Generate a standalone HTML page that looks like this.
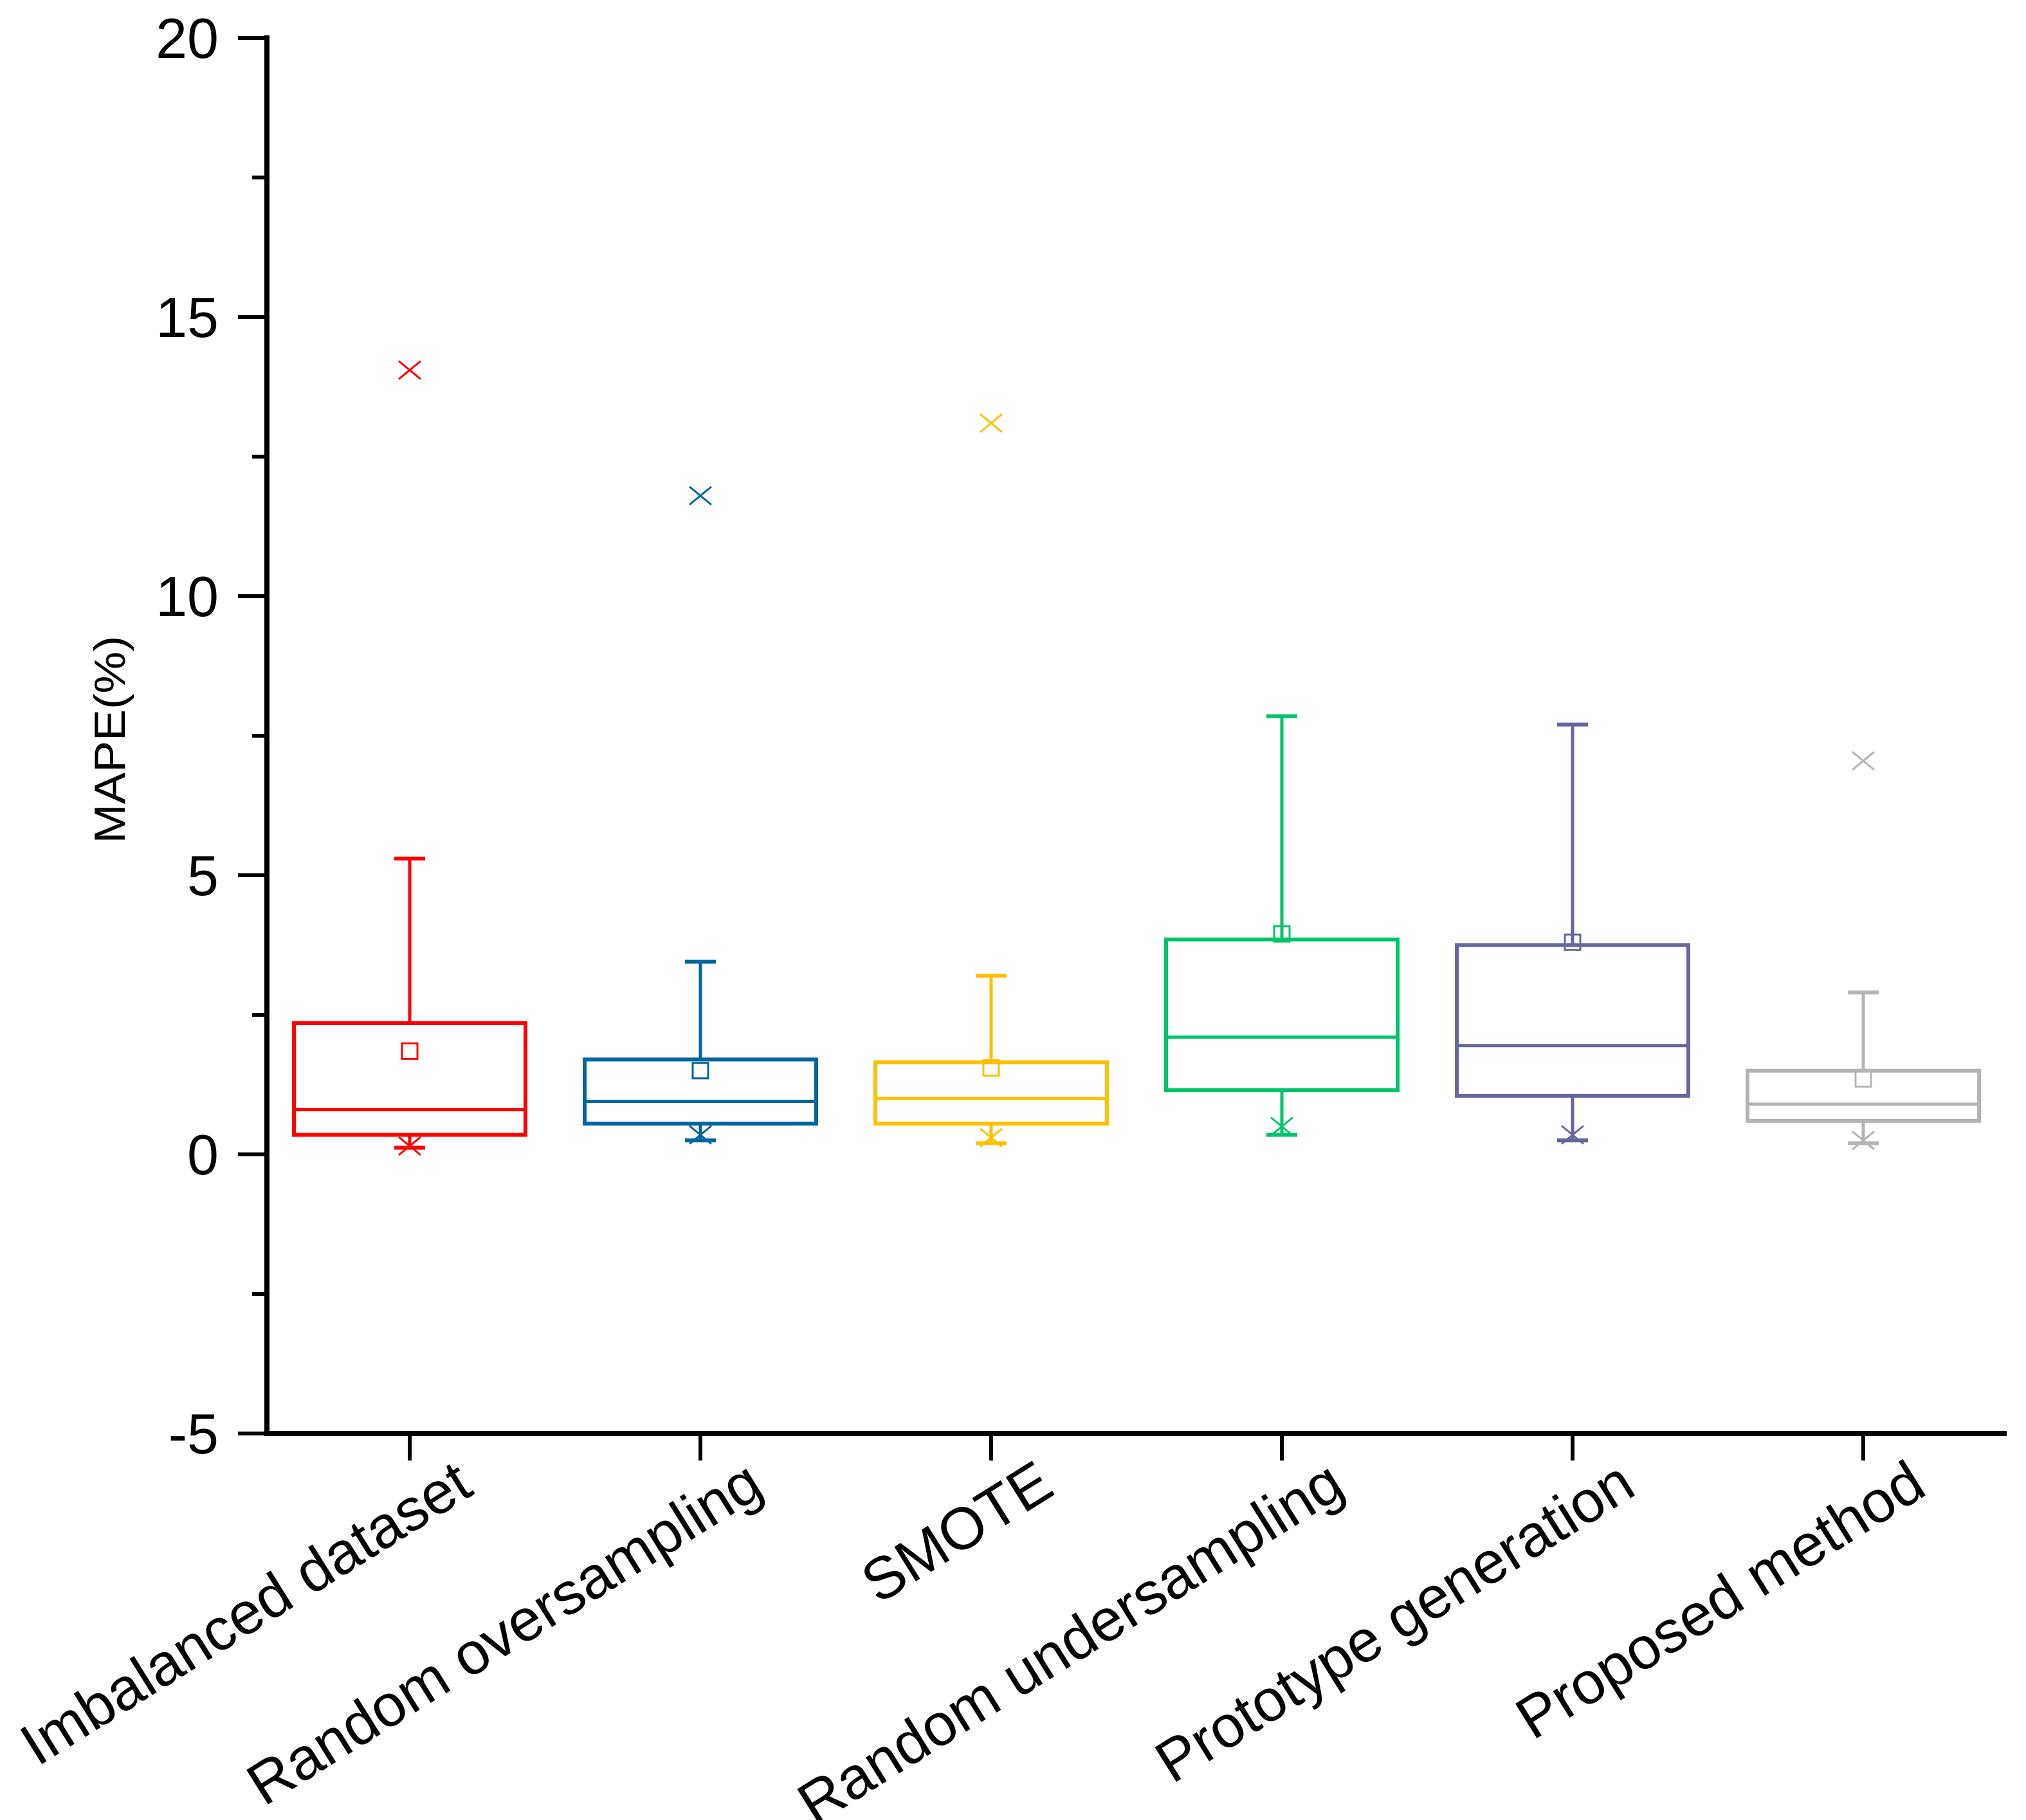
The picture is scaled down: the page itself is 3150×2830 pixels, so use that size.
<!DOCTYPE html>
<html><head><meta charset="utf-8"><style>html,body{margin:0;padding:0;background:#fff}svg{display:block}</style></head>
<body>
<svg id="chart" width="3150" height="2830" viewBox="0 0 3150 2830" xmlns="http://www.w3.org/2000/svg" font-family="'Liberation Sans', sans-serif">
<rect width="3150" height="2830" fill="#fff"/>
<g id="plot"></g>
<text transform="translate(194,1150) rotate(-90)" text-anchor="middle" font-size="68" textLength="323" lengthAdjust="spacingAndGlyphs">MAPE(%)</text>
</svg>
<script>
const categories = ["Imbalanced dataset","Random oversampling","SMOTE","Random undersampling","Prototype generation","Proposed method"];
const colors = ["#ff0000","#00649f","#ffc000","#00c46c","#65679d","#b4b4b4"];
const q1 = [0.35,0.55,0.55,1.15,1.05,0.6];
const median = [0.8,0.95,1.0,2.1,1.95,0.9];
const q3 = [2.35,1.7,1.65,3.85,3.75,1.5];
const whiskerHigh = [5.3,3.45,3.2,7.85,7.7,2.9];
const whiskerLow = [0.12,0.25,0.2,0.35,0.25,0.2];
const meanVals = [1.85,1.5,1.55,3.95,3.8,1.35];
const maxVals = [14.05,11.8,13.1,null,null,7.05];
const minVals = [0.15,0.35,0.3,0.5,0.35,0.25];
const yTicks = [-5,0,5,10,15,20];
const yMinor = [-2.5,2.5,7.5,12.5,17.5];

const NS="http://www.w3.org/2000/svg";
const g=document.getElementById('plot');
const y0=1795, ppu=86.8;
function yS(v){return y0-v*ppu;}
function xS(i){return 637+i*452;}
function mk(tag,attrs,parent){const e=document.createElementNS(NS,tag);for(const k in attrs)e.setAttribute(k,attrs[k]);(parent||g).appendChild(e);return e;}

let ax=mk('line',{x1:415,y1:yS(20)-4,x2:415,y2:yS(-5)+4,stroke:'#000','stroke-width':8});


let bx=mk('line',{x1:411,y1:yS(-5),x2:3120,y2:yS(-5),stroke:'#000','stroke-width':8});


yTicks.forEach(v=>{
  const t=mk('line',{x1:370,y1:yS(v),x2:415,y2:yS(v),stroke:'#000','stroke-width':6});
  
  
  const l=mk('text',{x:340,y:yS(v)+31,'text-anchor':'end','font-size':88});
  l.textContent=v;
  
  
});
yMinor.forEach(v=>{
  const t=mk('line',{x1:392,y1:yS(v),x2:415,y2:yS(v),stroke:'#000','stroke-width':6});
  
  
});
categories.forEach((c,i)=>{
  const cx=xS(i), col=colors[i];
  const t=mk('line',{x1:cx,y1:yS(-5),x2:cx,y2:yS(-5)+42,stroke:'#000','stroke-width':6});
  
  
  const l=mk('text',{transform:`translate(${cx+102},2322) rotate(-32)`,'text-anchor':'end','font-size':92});
  l.textContent=c;
  
  
  const grp=mk('g',{stroke:col,fill:'none'});
  
  
  const hw=180, cw=24;
  mk('line',{x1:cx,y1:yS(q3[i]),x2:cx,y2:yS(whiskerHigh[i]),'stroke-width':5},grp);
  mk('line',{x1:cx,y1:yS(q1[i]),x2:cx,y2:yS(whiskerLow[i]),'stroke-width':5},grp);
  mk('line',{x1:cx-cw,y1:yS(whiskerHigh[i]),x2:cx+cw,y2:yS(whiskerHigh[i]),'stroke-width':6},grp);
  mk('line',{x1:cx-cw,y1:yS(whiskerLow[i]),x2:cx+cw,y2:yS(whiskerLow[i]),'stroke-width':6},grp);
  mk('rect',{x:cx-hw,y:yS(q3[i]),width:2*hw,height:yS(q1[i])-yS(q3[i]),'stroke-width':6,fill:'none'},grp);
  mk('line',{x1:cx-hw,y1:yS(median[i]),x2:cx+hw,y2:yS(median[i]),'stroke-width':5},grp);
  mk('rect',{x:cx-12,y:yS(meanVals[i])-12,width:24,height:24,'stroke-width':3,fill:'none'},grp);
  [maxVals[i],minVals[i]].forEach(v=>{
    if(v===null)return;
    const y=yS(v);
    mk('path',{d:`M${cx-17},${y-14}L${cx+17},${y+14}M${cx-17},${y+14}L${cx+17},${y-14}`,'stroke-width':3},grp);
  });
});
</script>
</body></html>
